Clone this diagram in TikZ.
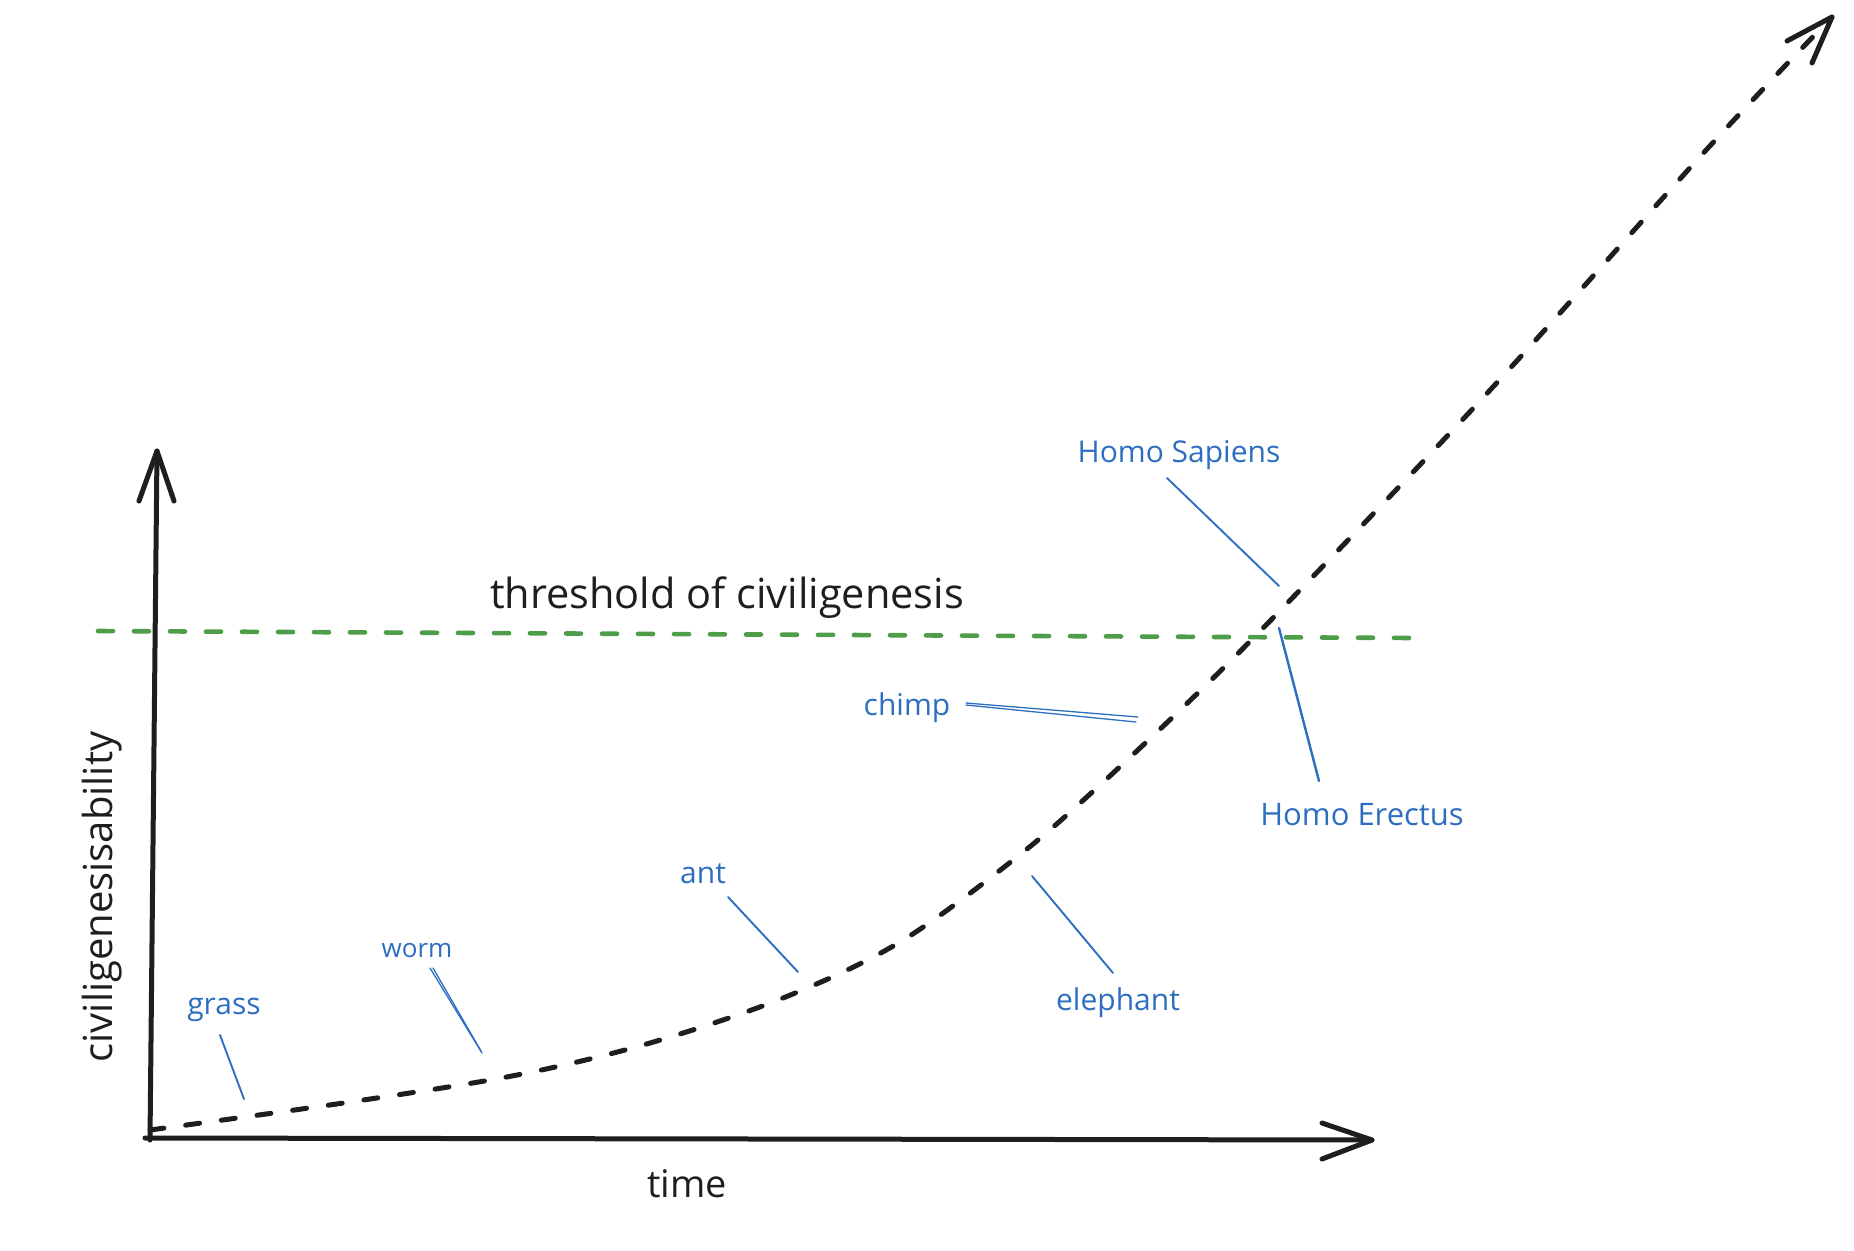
\documentclass[tikz,border=0pt]{standalone}
\usepackage{fontspec}
\setmainfont{Open Sans}
\definecolor{ink}{HTML}{1E1E1E}
\definecolor{lblue}{RGB}{45,110,192}
\definecolor{lgreen}{RGB}{78,157,72}
\begin{document}
\begin{tikzpicture}[x=1pt,y=-1pt, line cap=round, line join=round,
  axis/.style={ink, line width=5pt},
  curvestyle/.style={ink, line width=5pt, dash pattern=on 14pt off 22pt},
  thr/.style={lgreen, line width=4.6pt, dash pattern=on 15pt off 21pt},
  leader/.style={lblue, line width=1.9pt},
  lbl/.style={lblue, font=\fontsize{30}{36}\selectfont, inner sep=0pt, anchor=base},
  big/.style={ink, font=\fontsize{40}{48}\selectfont, inner sep=0pt, anchor=base}]
\useasboundingbox (0,0) rectangle (1854,1250);

% axes
\coordinate (ytip) at (157,451);
\coordinate (ybot) at (150,1140);
\coordinate (xbeg) at (145,1138);
\coordinate (xtip) at (1372,1140);
\draw[axis] (ybot) -- (ytip);
\draw[axis] (139,501) -- (ytip) -- (174,501);
\draw[axis] (xbeg) -- (xtip);
\draw[axis] (1322,1123) -- (xtip) -- (1322,1159);

% threshold
\coordinate (gl) at (98,631);
\coordinate (gr) at (1413,638);
\draw[thr] (gl) -- (gr);

% curve
\coordinate (ctip) at (1832,17);
\draw[curvestyle] plot[smooth, tension=0.55] coordinates {(150,1130) (350,1102) (517,1075) (650,1043) (783,998) (900,942) (1017,857) (1100,785) (1204,687) (1300,590) (1492,388) (1708,148) (1832,17)};
\draw[axis] (1787,41) -- (ctip) -- (1812,63);

% texts
\node[big, font=\fontsize{41.5}{48}\selectfont] (thrtext) at (727,608) {threshold of civiligenesis};
\node[big, font=\fontsize{38}{46}\selectfont] (time) at (687,1197) {time};
\node[big, rotate=90] (ylab) at (112,897) {civiligenesisability};

% labels
\node[lbl] (grass) at (224,1014) {grass};
\node[lbl, font=\fontsize{26}{30}\selectfont] (worm) at (417,957) {worm};
\node[lbl] (ant) at (703,883) {ant};
\node[lbl] (chimp) at (907,715) {chimp};
\node[lbl] (eleph) at (1118,1010) {elephant};
\node[lbl] (sapiens) at (1179,462) {Homo Sapiens};
\node[lbl, font=\fontsize{31}{36}\selectfont] (erectus) at (1362,825) {Homo Erectus};

% leader lines
\coordinate (g1) at (220,1035); \coordinate (g2) at (244,1099);
\draw[leader] (g1) -- (g2);
\coordinate (w1) at (430,968); \coordinate (w2) at (482,1053);
\coordinate (w3) at (433,968); \coordinate (w4) at (481,1051);
\draw[leader, line width=1.3pt] (w1) -- (w2);
\draw[leader, line width=1.3pt] (w3) -- (w4);
\coordinate (a1) at (728,897); \coordinate (a2) at (798,972);
\draw[leader] (a1) -- (a2);
\coordinate (c1) at (966,703); \coordinate (c2) at (1138,717);
\coordinate (c3) at (966,705); \coordinate (c4) at (1136,722);
\draw[leader, line width=1.3pt] (c1) -- (c2);
\draw[leader, line width=1.3pt] (c3) -- (c4);
\coordinate (e1) at (1032,876); \coordinate (e2) at (1113,973);
\draw[leader] (e1) -- (e2);
\coordinate (s1) at (1167,478); \coordinate (s2) at (1279,586);
\draw[leader] (s1) -- (s2);
\coordinate (h1) at (1279,628); \coordinate (h2) at (1319,781);
\draw[leader, line width=2.4pt] (h1) -- (h2);
\end{tikzpicture}
\end{document}
